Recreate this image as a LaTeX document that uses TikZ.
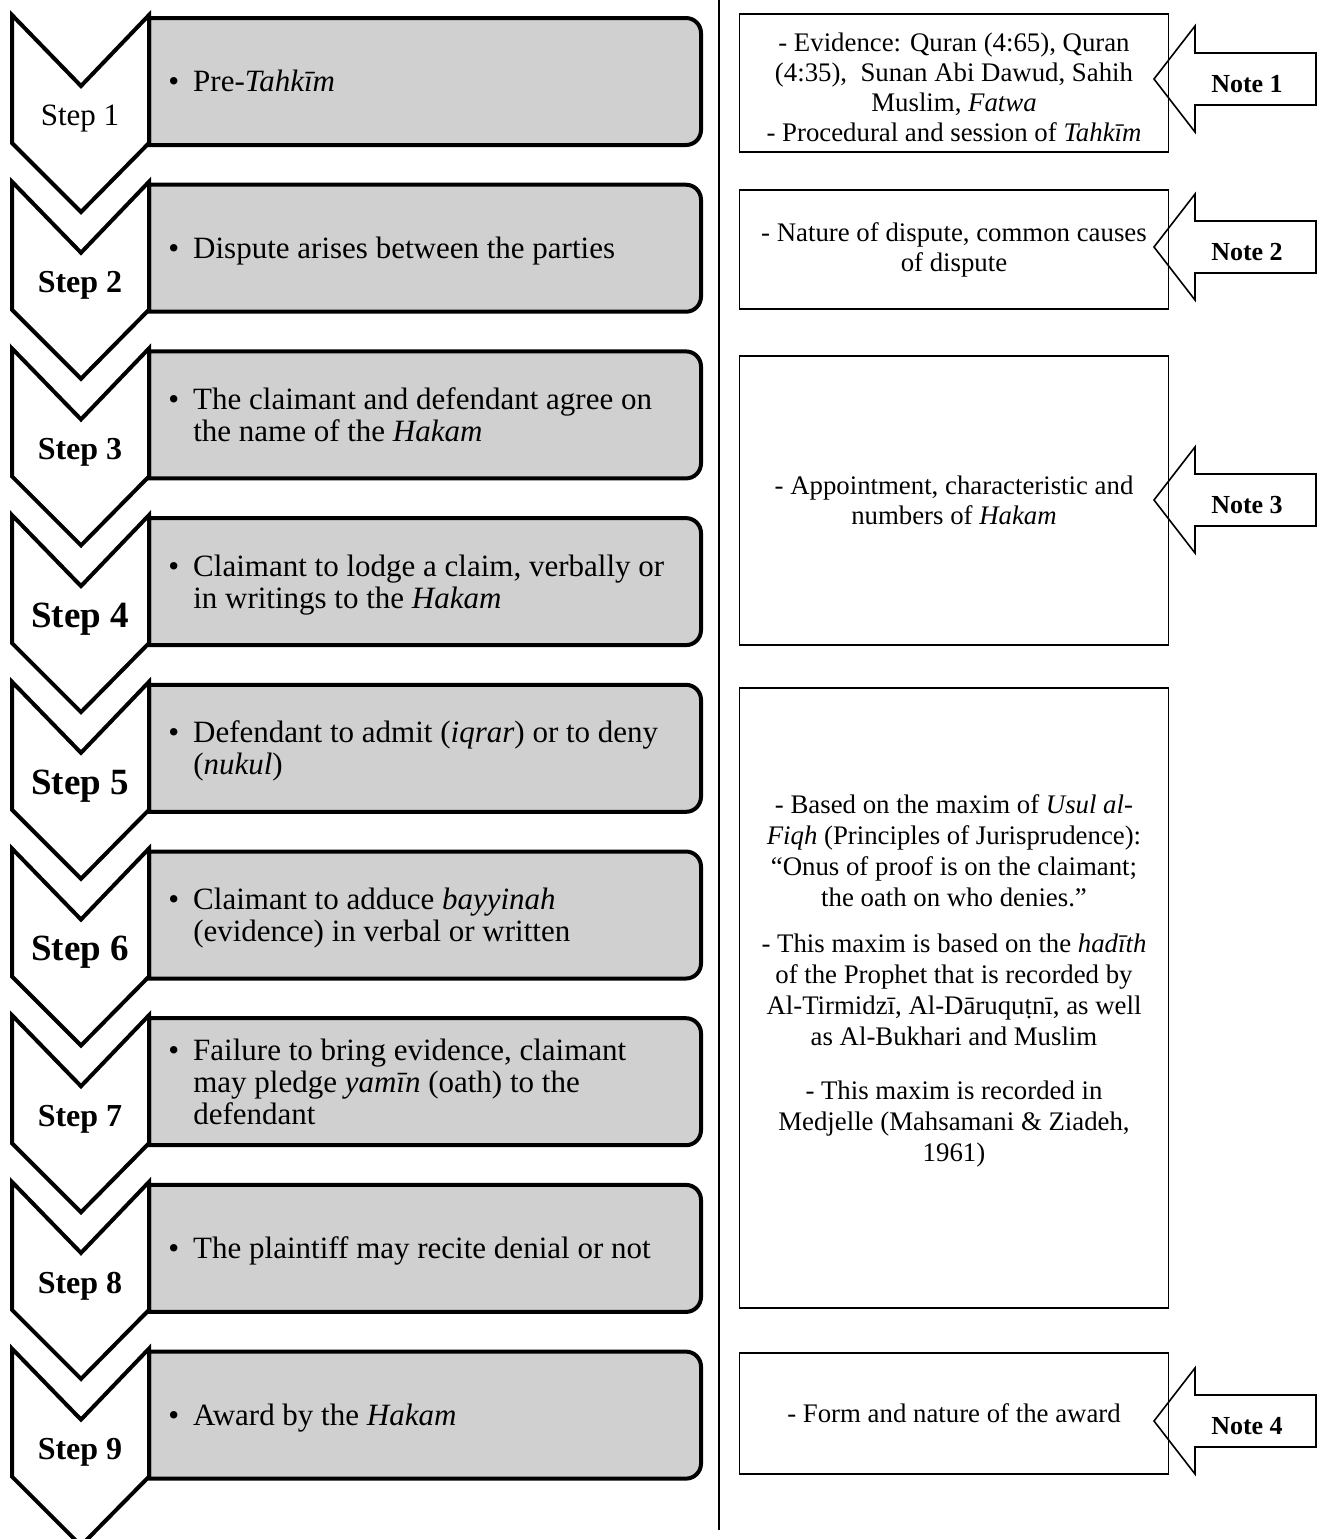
\documentclass[tikz,border=0pt]{standalone}
\usepackage{fontspec}
\setmainfont{Liberation Serif}
\usetikzlibrary{positioning}
\definecolor{stepgray}{HTML}{D0D0D0}
\tikzset{chevron/.style={draw=black,fill=white,line width=2pt},
         stepbox/.style={draw=black,fill=stepgray,line width=2pt},
         step text/.style={anchor=west,inner sep=0pt,font=\fontsize{15.5}{16}\selectfont},
         plain step/.style={inner sep=0pt,font=\fontsize{15.5}{17}\selectfont},
         bold step/.style={inner sep=0pt,font=\fontsize{16}{18}\selectfont\bfseries},
         big step/.style={inner sep=0pt,font=\fontsize{18.5}{20}\selectfont\bfseries},
         notebox/.style={draw=black,line width=0.8pt,minimum width=214.5pt,inner sep=0pt,align=center,font=\fontsize{13.4}{15}\selectfont},
         note text/.style={inner sep=0pt,align=center,font=\fontsize{13.4}{15.5}\selectfont},
         notearrow/.style={draw=black,line width=0.8pt},
         note label/.style={inner sep=0pt,font=\fontsize{13}{15}\selectfont\bfseries}
}
\newcommand{\stepitem}[1]{\textbullet\hspace{7pt}\begin{tabular}[t]{@{}l@{}}#1\end{tabular}}

\begin{document}
\begin{tikzpicture}[x=0.5pt,y=0.5pt]
\useasboundingbox (0,0) rectangle (1322,-1539);

% steps down the left side
\foreach \i/\sty/\txt in {
    1/plain step/{Pre-\textit{Tahkīm}},
    2/bold step/{Dispute arises between the parties},
    3/bold step/{The claimant and defendant agree on\\the name of the \textit{Hakam}},
    4/big step/{Claimant to lodge a claim, verbally or\\in writings to the \textit{Hakam}},
    5/big step/{Defendant to admit (\textit{iqrar}) or to deny\\(\textit{nukul})},
    6/big step/{Claimant to adduce \textit{bayyinah}\\(evidence) in verbal or written},
    7/bold step/{Failure to bring evidence, claimant\\may pledge \textit{yamīn} (oath) to the\\defendant},
    8/bold step/{The plaintiff may recite denial or not},
    9/bold step/{Award by the \textit{Hakam}}}{
  \pgfmathsetmacro{\t}{15+(\i-1)*166.7}
  \draw[stepbox] (149,-\t-3) -- (686,-\t-3) arc[start angle=90,end angle=0,radius=15]
      -- (701,-\t-115) arc[start angle=0,end angle=-90,radius=15] -- (149,-\t-130) -- cycle;
  \draw[chevron] (12,-\t) -- (81,-\t-71) -- (149,-\t) -- (149,-\t-128)
      -- (81,-\t-197) -- (12,-\t-128) -- cycle;
  \node[\sty] (lab\i) at (80,-\t-104) {Step \i};
  \node[step text] (txt\i) at (168,-\t-70.5) {\stepitem{\txt}};
}

% divider
\coordinate (divtop) at (719,0);
\coordinate (divbot) at (719,-1530);
\draw[line width=1pt] (divtop) -- (divbot);

% notes on the right
\node[notebox,minimum height=69pt] (nb1) at (954,-83) {};
\node[note text,font=\fontsize{13.4}{15}\selectfont] (nt1) at (954,-87)
    {- Evidence: Quran (4:65), Quran\\(4:35),\ \ Sunan Abi Dawud, Sahih\\Muslim, \textit{Fatwa}\\- Procedural and session of \textit{Tahkīm}};
\node[notebox,minimum height=59.5pt] (nb2) at (954,-249.5)
    {- Nature of dispute, common causes\\of dispute};
\node[notebox,minimum height=144.5pt] (nb3) at (954,-500.5)
    {- Appointment, characteristic and\\numbers of \textit{Hakam}};
\node[notebox,minimum height=310pt] (nb4) at (954,-998) {};
\node[note text] (nt4) at (954,-981)
    {- Based on the maxim of \textit{Usul al-}\\\textit{Fiqh} (Principles of Jurisprudence):\\“Onus of proof is on the claimant;\\the oath on who denies.”\\[7.5pt]
     - This maxim is based on the \textit{hadīth}\\of the Prophet that is recorded by\\Al-Tirmidzī, Al-Dāruqut^^^^0323nī, as well\\as Al-Bukhari and Muslim\\[11.5pt]
     - This maxim is recorded in\\Medjelle (Mahsamani \& Ziadeh,\\1961)};
\node[notebox,minimum height=60.5pt] (nb5) at (954,-1413.5)
    {- Form and nature of the award};

% note arrows
\foreach \k/\c in {1/79,2/247,3/500,4/1421}{
  \draw[notearrow] (1154,-\c) -- (1195,-\c+53) -- (1195,-\c+26) -- (1316,-\c+26)
      -- (1316,-\c-26) -- (1195,-\c-26) -- (1195,-\c-53) -- cycle;
  \node[note label] (note\k) at (1247,-\c-5) {Note \k};
}
\end{tikzpicture}
\end{document}
